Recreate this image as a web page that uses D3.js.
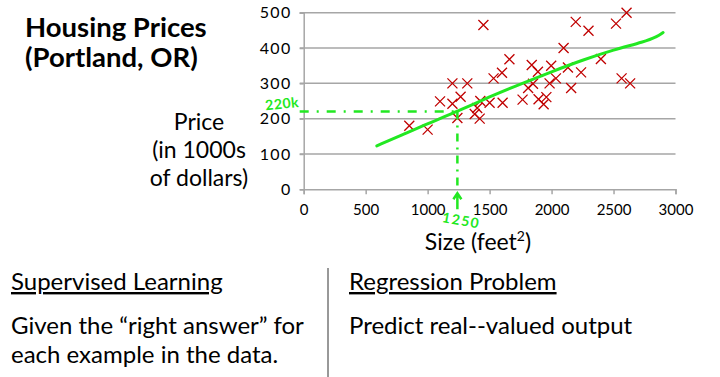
<!DOCTYPE html>
<html>
<head>
<meta charset="utf-8">
<script src="https://cdn.jsdelivr.net/npm/d3@7"></script>
<style>
  body { margin: 0; background: #fff; }
  svg { display: block; font-family: Lato, "Open Sans", sans-serif; }
</style>
</head>
<body>
<svg id="chart"></svg>
<script>
// Chart size
const width = 720;
const height = 377;

// Data
const sizes = [852, 1000, 1100, 1200, 1200, 1240, 1266, 1320, 1380, 1420,
  1400, 1425, 1450, 1500, 1532, 1600, 1605, 1660, 1766, 1811,
  1840, 1850, 1890, 1895, 1936, 1958, 1984, 1997, 2035, 2097,
  2132, 2158, 2195, 2238, 2298, 2398, 2520, 2565, 2605, 2634];
const prices = [180, 169, 249, 300, 242, 202, 262, 300, 213, 200,
  230, 250, 465, 245, 314, 330, 245, 368, 254, 287,
  352, 299, 333, 255, 241, 261, 300, 350, 314, 400,
  345, 287, 474, 331, 449, 369, 469, 314, 500, 300];

// Hand-drawn fit curve
const fitX = [590, 800, 1000, 1250, 1500, 1750, 2000, 2250, 2500, 2750, 2850, 2900];
const fitY = [123, 155, 186, 222, 262, 298, 333, 366, 395, 418, 432, 444];

const xTicks = [0, 500, 1000, 1500, 2000, 2500, 3000];
const yTicks = [0, 100, 200, 300, 400, 500];

// Prediction annotation
const askSize = 1240;
const askPrice = 220;

const red = "#c00000";
const green = "#22e822";
const grid = "#a6a6a6";

const svg = d3.select("#chart")
  .attr("width", width)
  .attr("height", height);

const x = d3.scaleLinear().domain([0, 3000]).range([303.7, 675.5]);
const y = d3.scaleLinear().domain([0, 500]).range([189.3, 12.7]);

// Gridlines
svg.append("g")
  .selectAll("line")
  .data(yTicks.filter(d => d > 0))
  .join("line")
  .attr("x1", x(0) - 4)
  .attr("x2", x(3000))
  .attr("y1", d => y(d))
  .attr("y2", d => y(d))
  .attr("stroke", grid)
  .attr("stroke-width", 1.5);

// Y axis
const yAxis = svg.append("g")
  .attr("transform", `translate(${x(0)},0)`)
  .call(d3.axisLeft(y).tickValues(yTicks).tickSize(4).tickPadding(8));
yAxis.selectAll("text")
  .attr("font-size", 16)
  .attr("letter-spacing", 1.4)
  .attr("fill", "#000")
  .attr("font-family", "Lato");

// X axis
const xAxis = svg.append("g")
  .attr("transform", `translate(0,${y(0)})`)
  .call(d3.axisBottom(x).tickValues(xTicks).tickFormat(d3.format("d")).tickSize(5).tickPadding(10));
xAxis.selectAll("text")
  .attr("font-size", 15)
  .attr("fill", "#000")
  .attr("font-family", "Lato");

svg.selectAll(".domain, .tick line")
  .attr("stroke", grid)
  .attr("stroke-width", 1.5);

// Red crosses
const r = 5;
svg.append("g")
  .selectAll("path")
  .data(d3.range(sizes.length))
  .join("path")
  .attr("d", i => {
    const cx = x(sizes[i]), cy = y(prices[i]);
    return `M${cx - r},${cy - r}L${cx + r},${cy + r}M${cx - r},${cy + r}L${cx + r},${cy - r}`;
  })
  .attr("stroke", red)
  .attr("stroke-width", 1.3)
  .attr("fill", "none");

// Dashed guide lines
svg.append("line")
  .attr("x1", x(0) - 4).attr("x2", x(askSize))
  .attr("y1", y(askPrice)).attr("y2", y(askPrice))
  .attr("stroke", green).attr("stroke-width", 2.5)
  .attr("stroke-dasharray", "9,8,2,8");

svg.append("line")
  .attr("x1", x(askSize)).attr("x2", x(askSize))
  .attr("y1", y(askPrice)).attr("y2", y(0) - 2)
  .attr("stroke", green).attr("stroke-width", 2.5)
  .attr("stroke-dasharray", "8,6,2,6");

// Fit curve
const fitLine = d3.line()
  .x((d, i) => x(fitX[i]))
  .y(d => y(d))
  .curve(d3.curveBasis);

svg.append("path")
  .attr("d", fitLine(fitY))
  .attr("fill", "none")
  .attr("stroke", green)
  .attr("stroke-width", 3)
  .attr("stroke-linecap", "round");

// Arrow under the axis
const ax = x(askSize);
const ay = y(0) + 4;
svg.append("path")
  .attr("d", `M${ax},${ay + 16}L${ax},${ay}M${ax - 4},${ay + 6}L${ax},${ay}L${ax + 4},${ay + 6}`)
  .attr("stroke", green)
  .attr("stroke-width", 2.5)
  .attr("fill", "none");

svg.append("text")
  .attr("transform", `translate(${ax + 3},${ay + 32}) rotate(10)`)
  .attr("text-anchor", "middle")
  .attr("font-size", 14)
  .attr("font-weight", "bold")
  .attr("letter-spacing", 1.5)
  .attr("fill", green)
  .text("1250");

svg.append("text")
  .attr("transform", `translate(${x(0) - 21},${y(askPrice) - 3}) rotate(-6)`)
  .attr("text-anchor", "middle")
  .attr("font-size", 14)
  .attr("font-weight", "bold")
  .attr("letter-spacing", 0.5)
  .attr("fill", green)
  .text("220k");

// Title
const title = svg.append("text")
  .attr("font-size", 27.5)
  .attr("font-weight", "bold")
  .attr("fill", "#000");
title.append("tspan").attr("x", 25).attr("y", 37).text("Housing Prices");
title.append("tspan").attr("x", 25).attr("y", 67).text("(Portland, OR)");

// Y label
const yLabel = svg.append("text")
  .attr("text-anchor", "middle")
  .attr("font-size", 23)
  .attr("fill", "#000");
["Price", "(in 1000s", "of dollars)"].forEach((t, i) => {
  yLabel.append("tspan").attr("x", 199).attr("y", 130 + i * 28).text(t);
});

// X label
const xLabel = svg.append("text")
  .attr("x", 478)
  .attr("y", 250)
  .attr("text-anchor", "middle")
  .attr("font-size", 23)
  .attr("fill", "#000");
xLabel.append("tspan").text("Size (feet");
xLabel.append("tspan").attr("font-size", 14).attr("dy", -9).text("2");
xLabel.append("tspan").attr("dy", 9).text(")");

// Bottom notes
svg.append("line")
  .attr("x1", 328).attr("x2", 328)
  .attr("y1", 268).attr("y2", height)
  .attr("stroke", "#333")
  .attr("stroke-width", 1);

const notes = [
  { x: 11, y: 290, text: "Supervised Learning", u: true },
  { x: 11, y: 334, text: "Given the \u201cright answer\u201d for", u: false },
  { x: 11, y: 363, text: "each example in the data.", u: false },
  { x: 349, y: 290, text: "Regression Problem", u: true },
  { x: 349, y: 334, text: "Predict real--valued output", u: false }
];

svg.append("g")
  .selectAll("text")
  .data(notes)
  .join("text")
  .attr("x", d => d.x)
  .attr("y", d => d.y)
  .attr("font-size", 24)
  .attr("fill", "#000")
  .style("text-decoration", d => d.u ? "underline" : "none")
  .text(d => d.text);
</script>
</body>
</html>
